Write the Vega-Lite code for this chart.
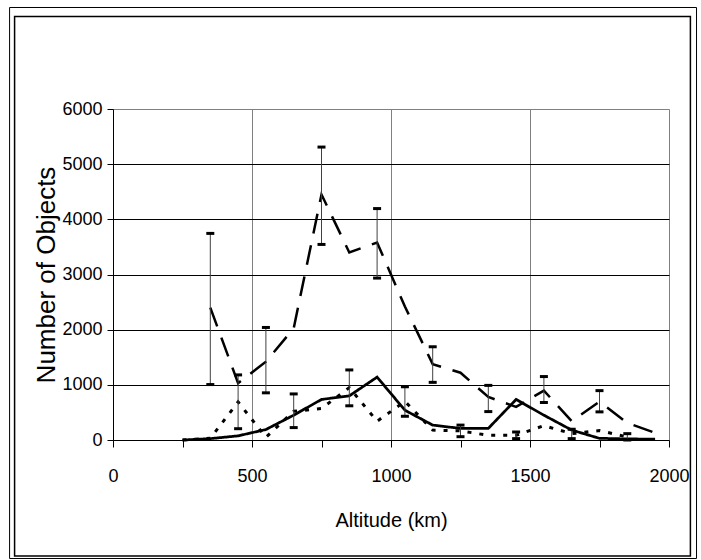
{
  "$schema": "https://vega.github.io/schema/vega-lite/v6.json",
  "width": 556,
  "height": 331,
  "autosize": {"type": "none"},
  "padding": {"left": 113, "top": 109, "right": 32, "bottom": 120},
  "background": "white",
  "config": {
    "view": {"stroke": "#808080", "strokeWidth": 1},
    "font": "Liberation Sans"
  },
  "datasets": {
    "lines": [
      {"alt": 350, "series": "A", "n": 2400},
      {"alt": 450, "series": "A", "n": 1030},
      {"alt": 550, "series": "A", "n": 1420},
      {"alt": 650, "series": "A", "n": 2025},
      {"alt": 750, "series": "A", "n": 4450},
      {"alt": 850, "series": "A", "n": 3400},
      {"alt": 950, "series": "A", "n": 3580},
      {"alt": 1050, "series": "A", "n": 2420},
      {"alt": 1150, "series": "A", "n": 1375},
      {"alt": 1250, "series": "A", "n": 1220},
      {"alt": 1350, "series": "A", "n": 780},
      {"alt": 1450, "series": "A", "n": 600},
      {"alt": 1550, "series": "A", "n": 895},
      {"alt": 1650, "series": "A", "n": 340},
      {"alt": 1750, "series": "A", "n": 695},
      {"alt": 1850, "series": "A", "n": 310},
      {"alt": 1950, "series": "A", "n": 130},
      {"alt": 250, "series": "B", "n": 0},
      {"alt": 350, "series": "B", "n": 25},
      {"alt": 450, "series": "B", "n": 75},
      {"alt": 550, "series": "B", "n": 190},
      {"alt": 650, "series": "B", "n": 450},
      {"alt": 750, "series": "B", "n": 735},
      {"alt": 850, "series": "B", "n": 800},
      {"alt": 950, "series": "B", "n": 1140},
      {"alt": 1050, "series": "B", "n": 540},
      {"alt": 1150, "series": "B", "n": 270},
      {"alt": 1250, "series": "B", "n": 210},
      {"alt": 1350, "series": "B", "n": 210},
      {"alt": 1450, "series": "B", "n": 735},
      {"alt": 1550, "series": "B", "n": 450},
      {"alt": 1650, "series": "B", "n": 180},
      {"alt": 1750, "series": "B", "n": 30},
      {"alt": 1850, "series": "B", "n": 20},
      {"alt": 1950, "series": "B", "n": 15},
      {"alt": 250, "series": "C", "n": 0},
      {"alt": 350, "series": "C", "n": 30},
      {"alt": 450, "series": "C", "n": 690},
      {"alt": 550, "series": "C", "n": 50},
      {"alt": 650, "series": "C", "n": 520},
      {"alt": 750, "series": "C", "n": 570},
      {"alt": 850, "series": "C", "n": 950},
      {"alt": 950, "series": "C", "n": 340},
      {"alt": 1050, "series": "C", "n": 700},
      {"alt": 1150, "series": "C", "n": 180},
      {"alt": 1250, "series": "C", "n": 165},
      {"alt": 1350, "series": "C", "n": 85},
      {"alt": 1450, "series": "C", "n": 85},
      {"alt": 1550, "series": "C", "n": 260},
      {"alt": 1650, "series": "C", "n": 115},
      {"alt": 1750, "series": "C", "n": 170},
      {"alt": 1850, "series": "C", "n": 55}
    ],
    "errors": [
      {"alt": 350, "series": "A", "lo": 1005, "hi": 3745},
      {"alt": 550, "series": "A", "lo": 855, "hi": 2040},
      {"alt": 750, "series": "A", "lo": 3545, "hi": 5310},
      {"alt": 950, "series": "A", "lo": 2935, "hi": 4195},
      {"alt": 1150, "series": "A", "lo": 1045, "hi": 1690},
      {"alt": 1350, "series": "A", "lo": 515, "hi": 990},
      {"alt": 1550, "series": "A", "lo": 680, "hi": 1150},
      {"alt": 1750, "series": "A", "lo": 510, "hi": 895},
      {"alt": 450, "series": "C", "lo": 205, "hi": 1180},
      {"alt": 650, "series": "C", "lo": 225, "hi": 835},
      {"alt": 850, "series": "C", "lo": 620, "hi": 1270},
      {"alt": 1050, "series": "C", "lo": 430, "hi": 965},
      {"alt": 1250, "series": "C", "lo": 60, "hi": 270},
      {"alt": 1450, "series": "C", "lo": 25, "hi": 145},
      {"alt": 1650, "series": "C", "lo": 25, "hi": 195},
      {"alt": 1850, "series": "C", "lo": 0, "hi": 115}
    ]
  },
  "layer": [
    {
      "data": {"name": "lines"},
      "mark": {"type": "line", "color": "black", "strokeCap": "butt", "strokeJoin": "miter"},
      "encoding": {
        "x": {
          "field": "alt", "type": "quantitative",
          "scale": {"domain": [0, 2000], "nice": false, "zero": false},
          "axis": {
            "title": "Altitude (km)",
            "values": [0, 250, 500, 750, 1000, 1250, 1500, 1750, 2000],
            "format": "d",
            "labelExpr": "datum.value % 500 === 0 ? datum.label : ''",
            "labelOverlap": false,
            "labelFlush": false,
            "labelFont": "Liberation Sans",
            "labelFontSize": 18,
            "labelColor": "black",
            "labelPadding": 20,
            "tickSize": 7,
            "tickColor": "black",
            "domainColor": "black",
            "grid": true,
            "gridColor": "#808080",
            "gridOpacity": {"condition": {"test": "datum.value % 500 !== 0 || datum.value === 2000 || datum.value === 0", "value": 0}, "value": 1},
            "titleFont": "Liberation Sans",
            "titleFontSize": 20,
            "titleFontWeight": "normal",
            "titleColor": "black",
            "titlePadding": 25
          }
        },
        "y": {
          "field": "n", "type": "quantitative",
          "scale": {"domain": [0, 6000], "nice": false},
          "axis": {
            "title": "Number of Objects",
            "values": [0, 500, 1000, 1500, 2000, 2500, 3000, 3500, 4000, 4500, 5000, 5500, 6000],
            "format": "d",
            "labelExpr": "datum.value % 1000 === 0 ? datum.label : ''",
            "labelOverlap": false,
            "labelFlush": false,
            "labelFont": "Liberation Sans",
            "labelFontSize": 18,
            "labelColor": "black",
            "labelPadding": 5,
            "tickSize": {"condition": {"test": "datum.value % 1000 !== 0", "value": 4}, "value": 6},
            "tickColor": "black",
            "domainColor": "black",
            "grid": true,
            "gridColor": "black",
            "gridOpacity": {"condition": {"test": "datum.value % 1000 !== 0 || datum.value === 6000 || datum.value === 0", "value": 0}, "value": 1},
            "titleFont": "Liberation Sans",
            "titleFontSize": 26,
            "titleFontWeight": "normal",
            "titleColor": "black",
            "titlePadding": 2
          }
        },
        "detail": {"field": "series"},
        "strokeDash": {
          "field": "series", "type": "nominal",
          "scale": {"domain": ["A", "B", "C"], "range": [[20, 12], [1, 0], [4, 8]]},
          "legend": null
        },
        "strokeWidth": {
          "field": "series", "type": "nominal",
          "scale": {"domain": ["A", "B", "C"], "range": [2.5, 3, 3]},
          "legend": null
        }
      }
    },
    {
      "data": {"name": "errors"},
      "mark": {"type": "rule", "color": "#404040", "strokeWidth": 1},
      "encoding": {
        "x": {"field": "alt", "type": "quantitative"},
        "y": {"field": "lo", "type": "quantitative"},
        "y2": {"field": "hi"}
      }
    },
    {
      "data": {"name": "errors"},
      "mark": {"type": "tick", "orient": "horizontal", "color": "black", "size": 8, "thickness": 3, "opacity": 1},
      "encoding": {
        "x": {"field": "alt", "type": "quantitative"},
        "y": {"field": "lo", "type": "quantitative"}
      }
    },
    {
      "data": {"name": "errors"},
      "mark": {"type": "tick", "orient": "horizontal", "color": "black", "size": 8, "thickness": 3, "opacity": 1},
      "encoding": {
        "x": {"field": "alt", "type": "quantitative"},
        "y": {"field": "hi", "type": "quantitative"}
      }
    },
    {
      "data": {"values": [{}]},
      "mark": {"type": "rect", "fill": null, "fillOpacity": 0, "stroke": "black", "strokeWidth": 1, "clip": false},
      "encoding": {
        "x": {"datum": -372, "type": "quantitative"},
        "x2": {"datum": 2099},
        "y": {"datum": 7840, "type": "quantitative"},
        "y2": {"datum": -2148}
      }
    },
    {
      "data": {"values": [{}]},
      "mark": {"type": "rect", "fill": null, "fillOpacity": 0, "stroke": "black", "strokeWidth": 1.5, "clip": false},
      "encoding": {
        "x": {"datum": -354, "type": "quantitative"},
        "x2": {"datum": 2077},
        "y": {"datum": 7676, "type": "quantitative"},
        "y2": {"datum": -2103}
      }
    }
  ]
}
